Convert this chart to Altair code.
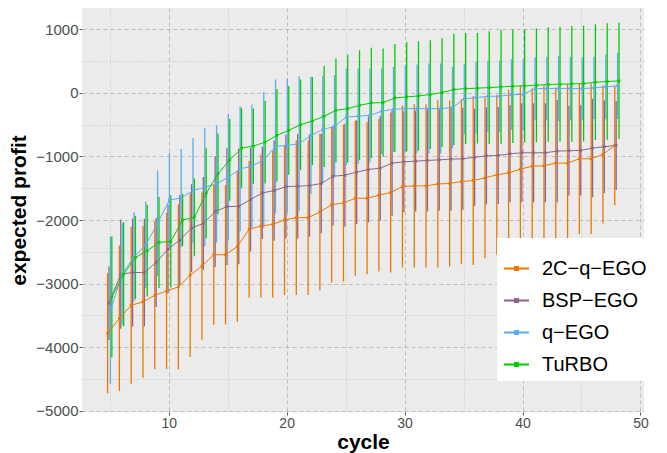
import altair as alt
import pandas as pd

cycles = list(range(5, 49))
series = ["2C−q−EGO", "BSP−EGO", "q−EGO", "TuRBO"]
colors = ["#EE7600", "#8B668B", "#5CACEE", "#00CD00"]

mean_2c = [-3784, -3547, -3342, -3289, -3184, -3116, -3053, -2868, -2726, -2547, -2547,
           -2416, -2147, -2095, -2068, -2000, -1963, -1963, -1874, -1758, -1732, -1658,
           -1658, -1610, -1568, -1474, -1463, -1463, -1432, -1426, -1395, -1379, -1337,
           -1289, -1258, -1200, -1153, -1147, -1105, -1105, -1037, -1037, -968, -826]
sd_2c = [945, 1145, 1237, 1192, 1165, 1230, 1297, 1286, 1158, 1103, 1095,
         1189, 1074, 1126, 1153, 1179, 1216, 1216, 1231, 1226, 1236, 1221,
         1195, 1200, 1258, 1273, 1284, 1284, 1315, 1305, 1300, 1330, 1263,
         1258, 1311, 1321, 1221, 1268, 1189, 1242, 1184, 1184, 1087, 940]

mean_bsp = [-3310, -2853, -2826, -2826, -2668, -2458, -2316, -2126, -2053, -1868, -1789,
            -1784, -1679, -1574, -1537, -1474, -1468, -1458, -1426, -1310, -1295, -1247,
            -1205, -1184, -1105, -1084, -1074, -1063, -1053, -1042, -1037, -1013, -990,
            -984, -958, -942, -942, -942, -916, -910, -905, -868, -847, -826]
sd_bsp = [580, 860, 850, 845, 700, 700, 710, 690, 730, 870, 920,
          911, 815, 726, 789, 815, 821, 805, 784, 779, 810, 816,
          832, 826, 827, 795, 794, 805, 800, 811, 805, 764, 763,
          763, 763, 779, 779, 779, 805, 706, 711, 774, 730, 700]

mean_q = [-3420, -2850, -2579, -2390, -2053, -1684, -1653, -1537, -1484, -1432, -1326,
          -1195, -1153, -1053, -842, -826, -800, -668, -579, -526, -379, -368,
          -353, -289, -258, -247, -247, -247, -247, -232, -95, -74, -53,
          -53, -26, -26, 68, 68, 68, 68, 68, 79, 95, 111]
sd_q = [1163, 800, 700, 680, 830, 740, 774, 827, 930, 922, 995,
        985, 970, 1069, 1053, 1052, 1063, 921, 842, 805, 763, 752,
        737, 673, 669, 684, 694, 710, 710, 640, 550, 563, 558,
        558, 557, 552, 495, 500, 511, 500, 490, 490, 510, 520]

mean_tu = [-3210, -2853, -2589, -2484, -2353, -2337, -2000, -1958, -1579, -1274, -1053,
           -868, -837, -774, -668, -589, -500, -442, -368, -274, -247, -195,
           -158, -153, -79, -63, -47, -26, 5, 53, 68, 74, 84,
           95, 105, 111, 121, 132, 137, 142, 147, 168, 179, 189]
sd_tu = [950, 820, 655, 720, 715, 725, 410, 613, 710, 637, 642,
         626, 592, 652, 728, 697, 710, 692, 797, 816, 850, 865,
         868, 850, 850, 860, 860, 855, 855, 876, 873, 871, 887,
         895, 895, 889, 895, 900, 900, 911, 911, 911, 916, 916]

x_major = [10, 20, 30, 40, 50]
x_minor = [5, 15, 25, 35, 45]
y_major = [-5000, -4000, -3000, -2000, -1000, 0, 1000]
y_minor = [-4500, -3500, -2500, -1500, -500, 500]

means = [mean_2c, mean_bsp, mean_q, mean_tu]
sds = [sd_2c, sd_bsp, sd_q, sd_tu]
dodge = [-0.18, -0.06, 0.06, 0.18]

rows = []
for s, m, sd, off in zip(series, means, sds, dodge):
    for c, mv, sv in zip(cycles, m, sd):
        rows.append({"series": s, "cycle": c, "xd": c + off,
                     "mean": mv, "lo": mv - sv, "hi": mv + sv})
df = pd.DataFrame(rows)

xscale = alt.Scale(domain=[2.65, 50.3], nice=False, zero=False)
yscale = alt.Scale(domain=[-5021, 1336], nice=False, zero=False)

color = alt.Color(
    "series:N",
    scale=alt.Scale(domain=series, range=colors),
    legend=alt.Legend(
        title=" ", titleFontSize=8, titlePadding=3,
        orient="none", legendX=415, legendY=230,
        fillColor="white", padding=6,
        symbolType="M-1,0H1M-0.12,-0.12H0.12V0.12H-0.12Z",
        symbolSize=625, symbolStrokeWidth=2,
        labelFont="Liberation Sans", labelFontSize=20, labelColor="black",
        labelOffset=12, rowPadding=8, labelLimit=300,
    ),
)

major_x_axis = alt.Axis(values=x_major, grid=True, gridColor="#BDBDBD", gridDash=[4, 3],
                        gridWidth=1, domain=False, tickColor="#555555", tickSize=3,
                        labelFont="Liberation Sans", labelFontSize=14, labelColor="#4D4D4D",
                        labelPadding=1, format="d", orient="bottom",
                        title="cycle", titleFont="Liberation Sans", titleFontSize=21,
                        titleFontWeight="bold", titleColor="black", titlePadding=1)
minor_x_axis = alt.Axis(values=x_minor, grid=True, gridColor="#C4C4C4", gridDash=[1, 2],
                        gridWidth=1, domain=False, ticks=False, labels=False, title=None,
                        orient="bottom")
major_y_axis = alt.Axis(values=y_major, grid=True, gridColor="#BDBDBD", gridDash=[4, 3],
                        gridWidth=1, domain=False, tickColor="#555555", tickSize=3,
                        labelFont="Liberation Sans", labelFontSize=15, labelColor="#4D4D4D",
                        labelPadding=1, format="d", orient="left",
                        title="expected profit", titleFont="Liberation Sans", titleFontSize=21,
                        titleFontWeight="bold", titleColor="black", titlePadding=6)
minor_y_axis = alt.Axis(values=y_minor, grid=True, gridColor="#C4C4C4", gridDash=[1, 2],
                        gridWidth=1, domain=False, ticks=False, labels=False, title=None,
                        orient="left")

base = alt.Chart(df)

bars = base.mark_rule(strokeWidth=1.3).encode(
    x=alt.X("xd:Q", scale=xscale, axis=minor_x_axis),
    y=alt.Y("lo:Q", scale=yscale, axis=minor_y_axis),
    y2="hi:Q",
    color=color,
)

lines = base.mark_line(strokeWidth=1).encode(
    x=alt.X("xd:Q", scale=xscale, axis=major_x_axis),
    y=alt.Y("mean:Q", scale=yscale, axis=major_y_axis),
    color=alt.Color("series:N", scale=alt.Scale(domain=series, range=colors), legend=None),
    order="cycle:Q",
)

points = base.mark_point(filled=True, shape="square", size=7, opacity=1).encode(
    x=alt.X("xd:Q", scale=xscale, axis=None),
    y=alt.Y("mean:Q", scale=yscale, axis=None),
    color=alt.Color("series:N", scale=alt.Scale(domain=series, range=colors), legend=None),
)

chart = alt.layer(bars, lines, points).resolve_axis(
    x="independent", y="independent"
).properties(
    width=562, height=404,
    autosize=alt.AutoSizeParams(type="none"),
    padding={"left": 74, "top": 0, "right": 15, "bottom": 41},
    background="white",
).configure_view(
    fill="#EBEBEB", stroke=None
)

chart.save("out.html", embed_options={"renderer": "svg", "actions": False})
